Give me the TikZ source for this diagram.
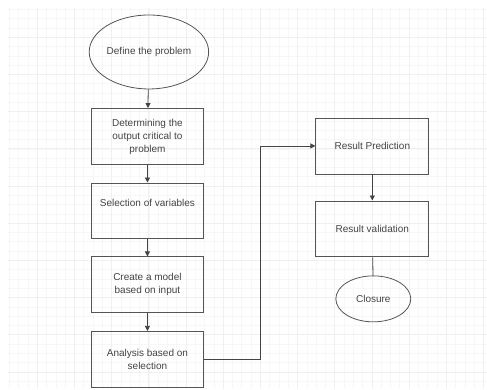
\documentclass[tikz,border=0pt]{standalone}
\usepackage{fontspec}
\setmainfont{Liberation Sans}
\usetikzlibrary{arrows.meta,shapes.geometric}
\definecolor{color555555}{HTML}{555555}
\definecolor{color444444}{HTML}{444444}

\begin{document}
\begin{tikzpicture}
    [x=1pt, y=-1pt,
     >={Triangle[length=5pt,width=5pt]},  % Uniform arrow style
     box/.style={draw=color555555, line width=0.8pt, minimum width=113pt, minimum height=56pt,
                 align=center, text=color444444, font=\fontsize{10}{13}\selectfont, inner sep=2pt},
     oval/.style={ellipse, draw=color555555, line width=0.8pt, inner sep=0pt,
                 text=color444444, font=\fontsize{10}{13}\selectfont},
     link/.style={draw=color444444, line width=0.8pt},
    ]

\fill[white] (0,0) rectangle (487,389);
\draw[black!3, line width=0.4pt, step=9.3pt] (8,8) grid (487,389);
\draw[black!6, line width=0.5pt, step=37.2pt] (8,8) grid (487,389);

\node[oval, minimum width=112pt, minimum height=74pt] (node_define) at (149,52) {Define the problem};
\node[box] (node_output) at (147.5,136.5) {Determining the\\output critical to\\problem};
\node[box] (node_select) at (147.5,211) {Selection of variables\\\strut};
\node[box] (node_model) at (147.5,285) {Create a model\\based on input};
\node[box] (node_analysis) at (147.5,359.5) {Analysis based on\\selection};
\node[box] (node_predict) at (372.5,146) {Result Prediction};
\node[box] (node_valid) at (372.5,229) {Result validation};
\node[oval, minimum width=75pt, minimum height=46pt] (node_closure) at (373.5,299) {Closure};
\coordinate (turn) at (261,146);

\draw[link,->] (node_define) -- (node_output);
\draw[link,->] (node_output) -- (node_select);
\draw[link,->] (node_select) -- (node_model);
\draw[link,->] (node_model) -- (node_analysis);
\draw[link,->] (node_analysis.east) -| (turn) -- (node_predict.west);
\draw[link,->] (node_predict) -- (node_valid);
\draw[link] (node_valid) -- (node_closure);

\end{tikzpicture}
\end{document}
